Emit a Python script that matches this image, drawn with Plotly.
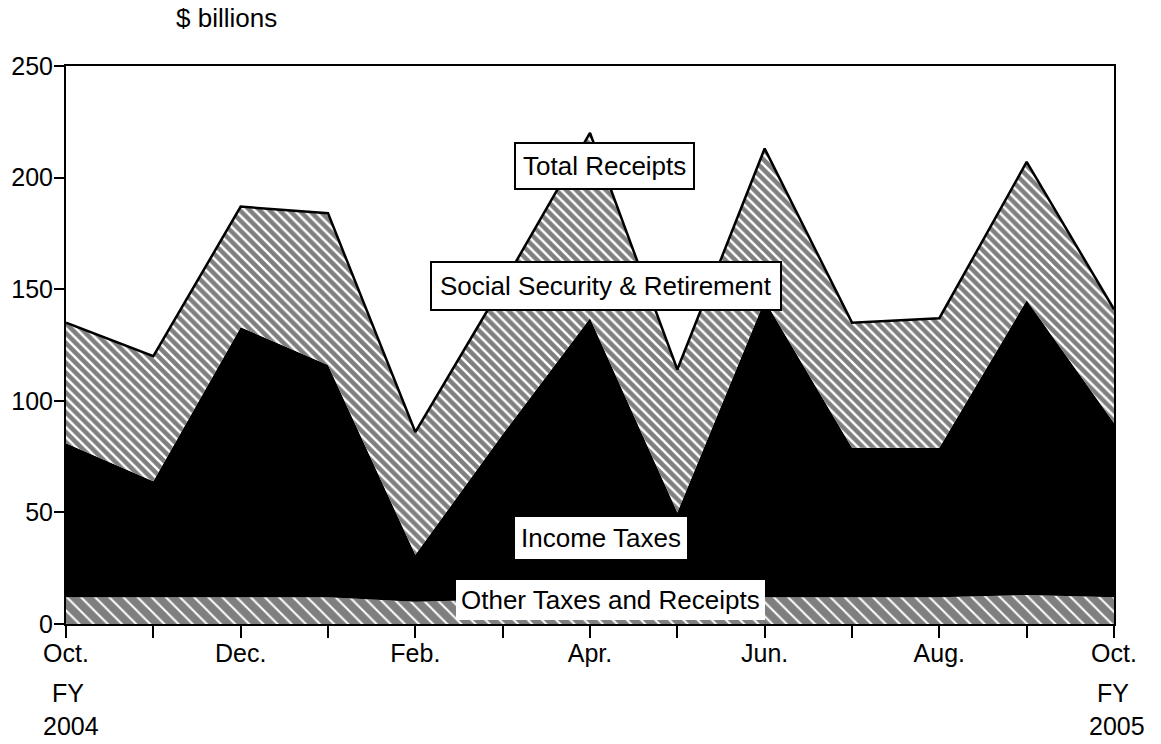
import plotly.graph_objects as go

months = ["Oct.", "Nov.", "Dec.", "Jan.", "Feb.", "Mar.", "Apr.", "May", "Jun.", "Jul.", "Aug.", "Sep.", "Oct."]
tick_text = ["Oct.", "", "Dec.", "", "Feb.", "", "Apr.", "", "Jun.", "", "Aug.", "", "Oct."]
x_idx = list(range(len(months)))

other = [12, 12, 12, 12, 10, 11, 12, 12, 12, 12, 12, 13, 12]
total_income_top = [81, 64, 133, 116, 31, 85, 137, 50, 145, 79, 79, 145, 90]
total = [135, 120, 187, 184, 86, 152, 220, 114, 213, 135, 137, 207, 141]

income = [a - b for a, b in zip(total_income_top, other)]
social = [a - b for a, b in zip(total, total_income_top)]

FONT = "Liberation Sans, Arial, Helvetica, sans-serif"

fig = go.Figure()
fig.add_trace(go.Scatter(
    x=x_idx, y=other, stackgroup="one", mode="lines",
    line=dict(width=0, color="black"),
    fillcolor="white",
    fillpattern=dict(shape="\\", fgcolor="black", bgcolor="white", size=10, solidity=0.8),
    name="Other Taxes and Receipts", hoverinfo="skip"))
fig.add_trace(go.Scatter(
    x=x_idx, y=income, stackgroup="one", mode="lines",
    line=dict(width=0, color="black"),
    fillcolor="black",
    name="Income Taxes", hoverinfo="skip"))
fig.add_trace(go.Scatter(
    x=x_idx, y=social, stackgroup="one", mode="lines",
    line=dict(width=2.5, color="black"),
    fillcolor="white",
    fillpattern=dict(shape="\\", fgcolor="black", bgcolor="white", size=7, solidity=0.65),
    name="Social Security & Retirement", hoverinfo="skip"))

ann_font = dict(family=FONT, size=26, color="black")
txt_font = dict(family=FONT, size=25, color="black")
common = dict(showarrow=False, xanchor="center", yanchor="middle")
annotations = [
    dict(x=6.17, y=205, text="Total Receipts", xref="x", yref="y",
         bgcolor="white", bordercolor="black", borderwidth=2, borderpad=7, font=ann_font, **common),
    dict(x=6.18, y=151.5, text="Social Security & Retirement", xref="x", yref="y",
         bgcolor="white", bordercolor="black", borderwidth=2, borderpad=8, font=ann_font, **common),
    dict(x=6.13, y=38.5, text="Income Taxes", xref="x", yref="y",
         bgcolor="white", borderwidth=0, borderpad=6, font=ann_font, **common),
    dict(x=6.23, y=10.8, text="Other Taxes and Receipts", xref="x", yref="y",
         bgcolor="white", borderwidth=0, borderpad=5, font=ann_font, **common),
    dict(x=0.153, y=1.086, text="$ billions", xref="paper", yref="paper",
         font=dict(family=FONT, size=26, color="black"), **common),
    dict(x=0.002, y=-0.124, text="FY", xref="paper", yref="paper", font=txt_font, **common),
    dict(x=0.005, y=-0.183, text="2004", xref="paper", yref="paper", font=txt_font, **common),
    dict(x=0.999, y=-0.124, text="FY", xref="paper", yref="paper", font=txt_font, **common),
    dict(x=1.003, y=-0.183, text="2005", xref="paper", yref="paper", font=txt_font, **common),
]

fig.update_layout(
    width=1161, height=744,
    margin=dict(l=66, r=47, t=66, b=120, autoexpand=False),
    paper_bgcolor="white", plot_bgcolor="white",
    showlegend=False,
    annotations=annotations,
    font=dict(family=FONT, color="black"),
)
fig.update_xaxes(
    range=[0, 12], tickmode="array", tickvals=x_idx, ticktext=tick_text,
    ticks="outside", ticklen=12, tickwidth=2, tickcolor="black",
    ticklabelstandoff=-6,
    showline=True, linecolor="black", linewidth=2, mirror=True,
    showgrid=False, zeroline=False, automargin=False,
    tickfont=dict(family=FONT, size=25, color="black"),
)
fig.update_yaxes(
    range=[0, 250], tickvals=[0, 50, 100, 150, 200, 250],
    ticks="outside", ticklen=10, tickwidth=2, tickcolor="black",
    ticklabelstandoff=-4,
    showline=True, linecolor="black", linewidth=2, mirror=True,
    showgrid=False, zeroline=False, automargin=False,
    tickfont=dict(family=FONT, size=25, color="black"),
)

fig.write_html(
    "out.html",
    config={"displayModeBar": False},
    post_script="document.body.style.margin='0px';document.body.style.overflow='hidden';",
)
